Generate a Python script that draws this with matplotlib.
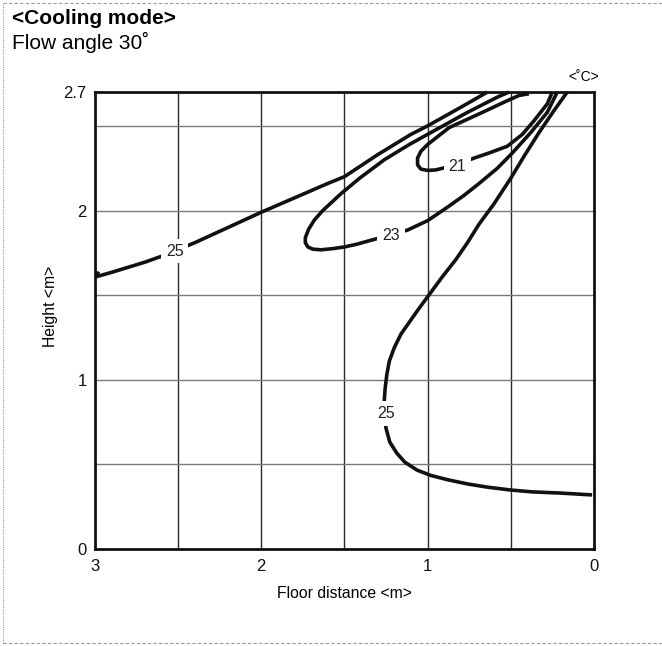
import matplotlib
matplotlib.use("Agg")
import matplotlib.pyplot as plt
from matplotlib.lines import Line2D

plt.rcParams['font.family'] = ['Liberation Sans', 'DejaVu Sans']

# isotherm curves (floor distance m, height m)
x25_upper = [2.98, 2.99, 2.90, 2.80, 2.70, 2.60, 2.50, 2.40, 2.30, 2.20, 2.10, 2.00, 1.80,
             1.60, 1.50, 1.30, 1.10, 1.00, 0.80, 0.64]
y25_upper = [1.64, 1.61, 1.635, 1.665, 1.695, 1.73, 1.77, 1.81, 1.855, 1.90, 1.945, 1.99,
             2.075, 2.16, 2.20, 2.33, 2.45, 2.50, 2.61, 2.70]

x23 = [0.51, 0.58, 0.76, 1.00, 1.11, 1.26, 1.41, 1.52, 1.63, 1.68, 1.715, 1.735, 1.735,
       1.72, 1.69, 1.64, 1.57, 1.50, 1.43, 1.32, 1.22, 1.12, 1.00, 0.88, 0.78, 0.69, 0.58,
       0.49, 0.38, 0.28, 0.22]
y23 = [2.70, 2.67, 2.58, 2.45, 2.39, 2.30, 2.19, 2.10, 2.00, 1.945, 1.89, 1.84, 1.81,
       1.785, 1.772, 1.768, 1.775, 1.785, 1.80, 1.83, 1.855, 1.885, 1.94, 2.02, 2.09, 2.16,
       2.25, 2.34, 2.46, 2.58, 2.70]

x21 = [0.39, 0.45, 0.54, 0.67, 0.87, 1.00, 1.04, 1.06, 1.06, 1.04, 1.00, 0.95, 0.91, 0.82,
       0.72, 0.63, 0.52, 0.43, 0.36, 0.28, 0.25]
y21 = [2.69, 2.68, 2.64, 2.58, 2.49, 2.39, 2.35, 2.31, 2.27, 2.245, 2.237, 2.24, 2.25, 2.27,
       2.31, 2.34, 2.38, 2.45, 2.53, 2.63, 2.70]

x25_lower = [0.16, 0.20, 0.24, 0.33, 0.42, 0.50, 0.60, 0.69, 0.76, 0.83, 0.91, 1.00, 1.06,
             1.11, 1.16, 1.20, 1.23, 1.245, 1.255, 1.26, 1.26, 1.25, 1.227, 1.185, 1.137,
             1.064, 0.98, 0.88, 0.76, 0.64, 0.50, 0.37, 0.20, 0.01]
y25_lower = [2.70, 2.645, 2.59, 2.46, 2.32, 2.19, 2.04, 1.92, 1.81, 1.71, 1.61, 1.49, 1.41,
             1.34, 1.27, 1.19, 1.11, 1.03, 0.95, 0.88, 0.80, 0.715, 0.632, 0.567, 0.514,
             0.467, 0.435, 0.41, 0.385, 0.366, 0.349, 0.338, 0.331, 0.32]

curves = [(x25_upper, y25_upper), (x23, y23), (x21, y21), (x25_lower, y25_lower)]

label_text = ['25', '23', '21', '25']
label_x = [2.52, 1.22, 0.82, 1.25]
label_y = [1.76, 1.85, 2.26, 0.80]

xticks = [3, 2, 1, 0]
yticks = [0, 1, 2, 2.7]
ytick_labels = ['0', '1', '2', '2.7']
xgrid = [2.5, 2, 1.5, 1, 0.5]
ygrid = [0.5, 1, 1.5, 2, 2.5]

fig = plt.figure(figsize=(6.62, 6.46), dpi=100)
ax = fig.add_axes([0.1435, 0.150, 0.7535, 0.7075])

for gx in xgrid:
    ax.axvline(gx, color='#2a2a2a', lw=1.0, zorder=1)
for gy in ygrid:
    ax.axhline(gy, color='#7a7a7a', lw=1.0, zorder=1)

for cx, cy in curves:
    ax.plot(cx, cy, color='#111111', lw=2.6, solid_capstyle='butt',
            solid_joinstyle='round', zorder=3, clip_on=False)

for t, lx, ly in zip(label_text, label_x, label_y):
    ax.text(lx, ly, t, fontsize=11.5, ha='center', va='center', color='#222222', zorder=4,
            bbox=dict(boxstyle='square,pad=0.3', fc='white', ec='none'))

ax.set_xlim(3, 0)
ax.set_ylim(0, 2.7)
ax.set_xticks(xticks)
ax.set_xticklabels([str(v) for v in xticks])
ax.set_yticks(yticks)
ax.set_yticklabels(ytick_labels)
ax.tick_params(length=0, labelsize=12, colors='#111111')
ax.tick_params(axis='x', pad=7)
ax.tick_params(axis='y', pad=6)
for s in ax.spines.values():
    s.set_linewidth(2.0)
    s.set_color('#111111')
    s.set_zorder(5)

ax.set_xlabel('Floor distance <m>', fontsize=11.3, labelpad=9)
ax.set_ylabel('Height <m>', fontsize=11.3)
ax.yaxis.set_label_coords(-0.074, 0.53)

fig.text(0.018, 0.971, '<Cooling mode>', fontsize=15, fontweight='bold', ha='left', va='center')
fig.text(0.018, 0.935, 'Flow angle 30˚', fontsize=15, ha='left', va='center')
ax.text(0.06, 2.79, '<˚C>', fontsize=10, ha='center', va='center', clip_on=False)

# dashed frame around the figure
fig.add_artist(Line2D([0.005, 1.0], [0.995, 0.995], transform=fig.transFigure,
                      color='#999999', lw=0.8, ls=(0, (3, 2))))
fig.add_artist(Line2D([0.005, 1.0], [0.005, 0.005], transform=fig.transFigure,
                      color='#999999', lw=0.8, ls=(0, (3, 2))))
fig.add_artist(Line2D([0.005, 0.005], [0.005, 0.995], transform=fig.transFigure,
                      color='#999999', lw=0.8, ls=(0, (1, 1))))

fig.savefig('out.png', dpi=100)
